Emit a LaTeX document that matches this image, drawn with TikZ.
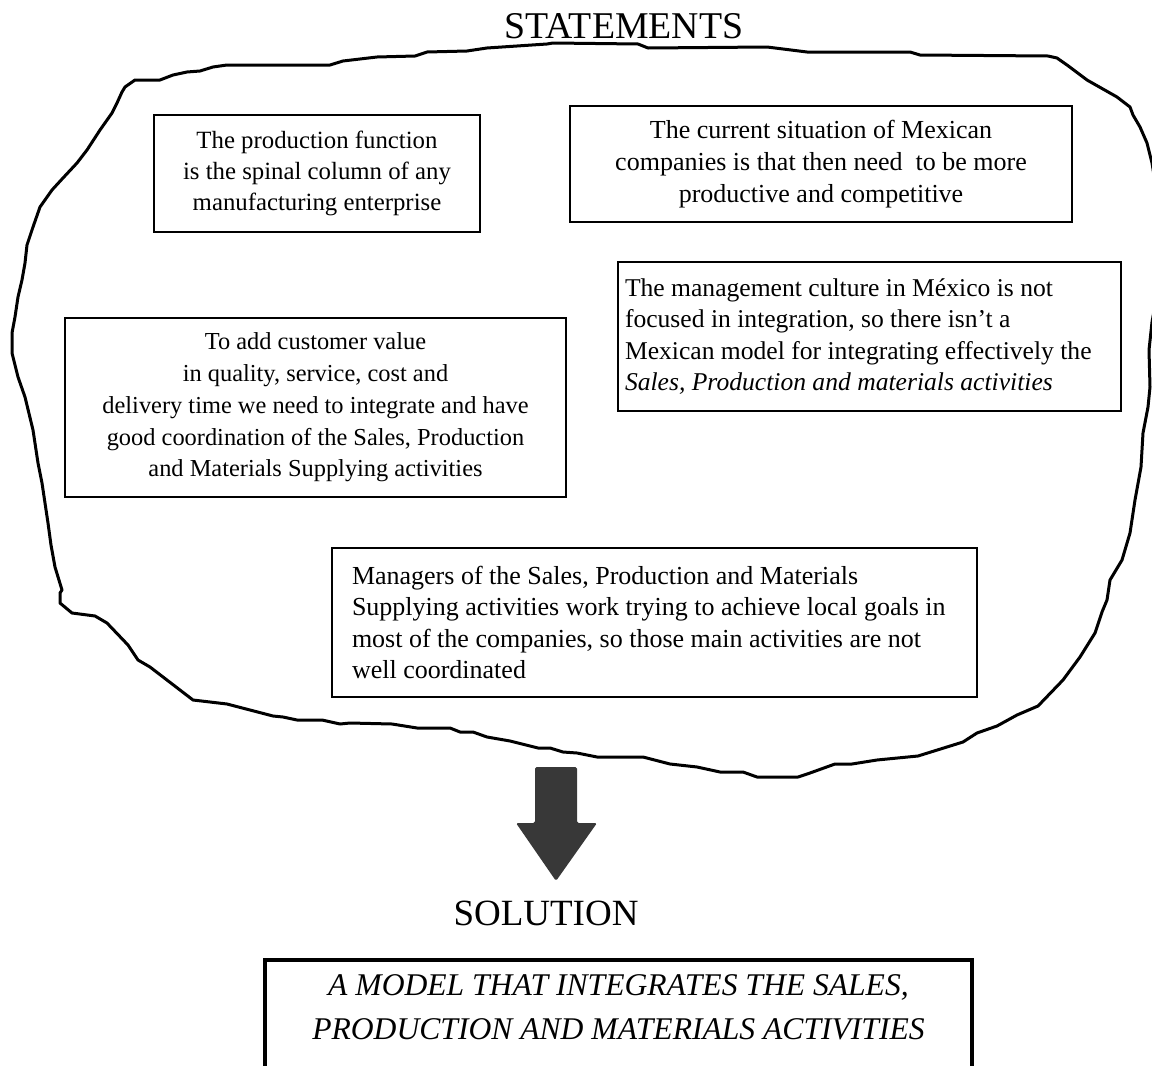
\documentclass[tikz,border=0pt]{standalone}
\usepackage{fontspec}
\setmainfont{Liberation Serif}
\begin{document}
\begin{tikzpicture}[x=0.5pt,y=-0.5pt,
  stmt/.style={draw, line width=1.3pt, inner sep=0pt,
    font=\fontsize{12.8}{15.8}\selectfont, align=center},
  stmtleft/.style={stmt, align=flush left},
  heading/.style={anchor=base, inner sep=0pt, font=\fontsize{18.9}{22}\selectfont},
  outline/.style={line width=1.5pt, line join=round, line cap=round},
  bigarrow/.style={fill=black!78, rounded corners=0.8pt},
  modeltext/.style={font=\fontsize{15.8}{22}\selectfont\itshape, align=center, inner sep=0pt},
  frame/.style={line width=2.2pt}
]
\useasboundingbox (0,0) rectangle (1152,1066);
\clip (0,0) rectangle (1152,1066);

% heading over the cloud of statements
\node[heading] (stm) at (624,38) {STATEMENTS};

% hand-drawn cloud around the statements
\draw[outline] (18,297) -- (22,280) -- (25,263) -- (27,245) -- (33,227) -- (40,207)
  -- (52,190) -- (63,178) -- (77,163) -- (87,150) -- (100,130) -- (112,113)
  -- (117,103) -- (122,92) -- (125,87) -- (135,80) -- (160,80) -- (173,75)
  -- (187,72) -- (200,71) -- (213,67) -- (227,65) -- (330,65) -- (343,61)
  -- (377,57) -- (415,56) -- (427,52) -- (467,51) -- (487,48) -- (547,44)
  -- (553,43) -- (638,44) -- (648,48) -- (767,47) -- (807,52) -- (910,52)
  -- (920,55) -- (1048,56) -- (1057,58) -- (1067,65) -- (1087,80) -- (1117,97)
  -- (1130,107) -- (1133,115) -- (1140,127) -- (1147,143) -- (1152,163)
  -- (1158,200) -- (1160,260) -- (1156,300) -- (1152,322) -- (1149,350)
  -- (1150,387) -- (1148,407) -- (1143,433) -- (1141,467) -- (1135,500)
  -- (1130,533) -- (1122,560) -- (1110,580) -- (1107,600) -- (1102,612)
  -- (1095,633) -- (1080,657) -- (1063,680) -- (1038,706) -- (1017,715)
  -- (997,726) -- (977,733) -- (963,742) -- (918,756) -- (877,760) -- (852,764)
  -- (835,764) -- (810,773) -- (798,777) -- (757,777) -- (743,772) -- (720,772)
  -- (697,767) -- (670,764) -- (643,757) -- (597,757) -- (577,753) -- (563,752)
  -- (550,748) -- (538,748) -- (510,741) -- (487,737) -- (473,732) -- (460,732)
  -- (450,728) -- (417,728) -- (392,724) -- (350,723) -- (340,724) -- (322,720)
  -- (297,720) -- (283,717) -- (273,716) -- (227,704) -- (193,700) -- (150,667)
  -- (138,660) -- (128,645) -- (107,623) -- (95,616) -- (72,613) -- (60,603)
  -- (60,593) -- (62,590) -- (55,567) -- (51,545) -- (48,523) -- (45,503)
  -- (42,483) -- (38,463) -- (33,430) -- (25,397) -- (18,377) -- (12,353)
  -- (12,333) -- (15,317) -- cycle;

% statements
\node[stmt, font=\fontsize{12.4}{15.6}\selectfont, minimum width=163pt, minimum height=58.5pt] (prod) at (317,173.5)
  {The production function\\is the spinal column of any\\manufacturing enterprise};

\node[stmt, font=\fontsize{13}{15.9}\selectfont, minimum width=251pt, minimum height=58pt] (situation) at (821,164)
  {The current situation of Mexican\\companies is that then need\ \ to be more\\productive and competitive};

\node[stmtleft, minimum width=251.5pt, minimum height=74.5pt, text width=244.5pt] (culture) at (869.5,336.5)
  {The management culture in México is not\\focused in integration, so there isn’t a\\Mexican model for integrating effectively the\\\textit{Sales, Production and materials activities}};

\node[stmt, font=\fontsize{12.2}{15.9}\selectfont, minimum width=250.5pt, minimum height=89.5pt] (value) at (315.5,407.5)
  {To add customer value\\in quality, service, cost and\\delivery time we need to integrate and have\\good coordination of the Sales, Production\\and Materials Supplying activities};

\node[stmtleft, font=\fontsize{13}{15.8}\selectfont, minimum width=322.5pt, minimum height=74.5pt, text width=302.5pt] (managers) at (654.5,622.5)
  {Managers of the Sales, Production and Materials\\Supplying activities work trying to achieve local goals in\\most of the companies, so those main activities are not\\well coordinated};

% block arrow leading to the solution
\fill[bigarrow] (535,767) -- (577,767) -- (577,823) -- (597,823) -- (556,881)
  -- (516,823) -- (535,823) -- cycle;

\node[heading, font=\fontsize{18.5}{22}\selectfont] (sol) at (546,925) {SOLUTION};

% solution box, running off the lower edge
\node[modeltext] (model) at (618.5,1007)
  {A MODEL THAT INTEGRATES THE SALES,\\PRODUCTION AND MATERIALS ACTIVITIES};
\draw[frame] (265,1085) |- (972,960) -- (972,1085);
\end{tikzpicture}
\end{document}
